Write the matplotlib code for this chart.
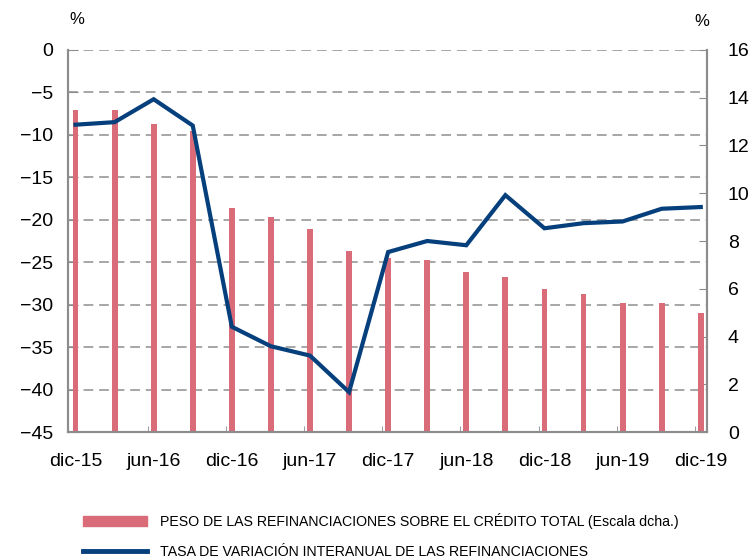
import matplotlib
matplotlib.use("Agg")
import matplotlib.pyplot as plt
from matplotlib.patches import Patch
from matplotlib.lines import Line2D
from matplotlib import font_manager

# datos trimestrales dic-15 .. dic-19
trimestres = ['dic-15', 'mar-16', 'jun-16', 'sep-16', 'dic-16', 'mar-17', 'jun-17', 'sep-17',
              'dic-17', 'mar-18', 'jun-18', 'sep-18', 'dic-18', 'mar-19', 'jun-19', 'sep-19', 'dic-19']
peso = [13.5, 13.5, 12.9, 12.6, 9.4, 9.0, 8.5, 7.6, 7.3, 7.2, 6.7, 6.5, 6.0, 5.8, 5.4, 5.4, 5.0]
tasa = [-8.8, -8.5, -5.8, -8.9, -32.6, -34.9, -36.0, -40.3, -23.8, -22.5, -23.0, -17.1,
        -21.0, -20.4, -20.2, -18.7, -18.5]
etiquetas = ['dic-15', 'jun-16', 'dic-16', 'jun-17', 'dic-17', 'jun-18', 'dic-18', 'jun-19', 'dic-19']

label_peso = 'PESO DE LAS REFINANCIACIONES SOBRE EL CRÉDITO TOTAL (Escala dcha.)'
label_tasa = 'TASA DE VARIACIÓN INTERANUAL DE LAS REFINANCIACIONES'

plt.rcParams['font.family'] = ['Liberation Sans', 'DejaVu Sans']

# fuente estrecha para la leyenda si existe
nombres = {f.name for f in font_manager.fontManager.ttflist}
if 'Liberation Sans Narrow' in nombres:
    prop_leg = {'family': 'Liberation Sans Narrow'}
else:
    prop_leg = {'family': 'Liberation Sans'}

rojo = '#DA6B79'
azul = '#053F7C'
gris = '#8C8C8C'

fig = plt.figure(figsize=(7.54, 5.58), dpi=100)
ax = fig.add_axes([0.0908, 0.2258, 0.8469, 0.6846])
ax2 = ax.twinx()
ax3 = ax.twinx()

x = list(range(len(trimestres)))

# barras (escala dcha.)
ax2.bar(x, peso, width=0.15, color=rojo, zorder=2)
ax2.set_ylim(0, 16)
ax2.set_yticks(range(0, 17, 2))

# linea (escala izda.)
ax3.plot(x, tasa, color=azul, lw=3.0, solid_joinstyle='miter', zorder=3)
ax3.set_ylim(-45, 0)
ax3.axis('off')

ax.set_ylim(-45, 0)
ax.set_yticks(range(-45, 1, 5))
ax.set_xlim(-0.18, 16.16)
ax.grid(axis='y', color='#A6A6A6', ls=(0, (5, 3)), lw=1.4)
ax.set_xticks(range(0, 17, 2))
ax.set_xticklabels(etiquetas)
ax.set_xticks([2 * k - 0.15 for k in range(1, 9)], minor=True)
ax.tick_params(axis='x', which='major', length=0, pad=15, labelsize=14)
ax.tick_params(axis='x', which='minor', direction='in', length=4, color=gris)
ax.tick_params(axis='y', direction='in', length=7, color=gris, pad=11, labelsize=14)
ax2.tick_params(axis='y', direction='in', length=6, color=gris, pad=15, labelsize=14)

for a in (ax, ax2):
    a.spines['top'].set_visible(False)
    for s in ('left', 'right', 'bottom'):
        a.spines[s].set_color(gris)
        a.spines[s].set_linewidth(1.5)

fig.text(77 / 754, 1 - 20 / 558, '%', fontsize=12, ha='center', va='center')
fig.text(702 / 754, 1 - 22 / 558, '%', fontsize=12, ha='center', va='center')

# ajustar tamaño de la leyenda para que la primera etiqueta mida ~520 px
r = fig.canvas.get_renderer()
t = fig.text(0, 0, label_peso, fontsize=10, **prop_leg)
ancho = t.get_window_extent(r).width
t.remove()
tam = 10 * 520 / ancho
px = tam * 100 / 72

handles = [Patch(color=rojo), Line2D([], [], color=azul, lw=3.5)]
fig.legend(handles, [label_peso, label_tasa], loc='upper left',
           bbox_to_anchor=(83 / 754, 1 - 513 / 558), frameon=False,
           borderpad=0, borderaxespad=0, handlelength=64 / px,
           handleheight=10 / px, handletextpad=13 / px, labelspacing=16 / px,
           prop=dict(prop_leg, size=tam))

fig.savefig('out.png', dpi=100)
